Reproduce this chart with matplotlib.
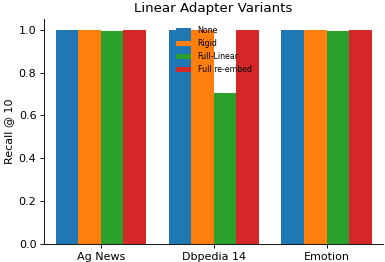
import numpy as np
import matplotlib.pyplot as plt

# data
datasets = ["Ag News", "Dbpedia 14", "Emotion"]
variants = ["None", "Rigid", "Full-Linear", "Full re-embed"]
none_vals = [1.0, 1.0, 1.0]
rigid_vals = [1.0, 1.0, 1.0]
full_linear_vals = [0.993, 0.705, 0.993]
full_reembed_vals = [1.0, 1.0, 1.0]
colors = ["#1f77b4", "#ff7f0e", "#2ca02c", "#d62728"]

series = [none_vals, rigid_vals, full_linear_vals, full_reembed_vals]

# render at dpi 80 so the default text sizes match the reference
fig, ax = plt.subplots(figsize=(385 / 80, 262 / 80), dpi=80)
x = np.arange(len(datasets))
width = 0.2

for i, (name, vals) in enumerate(zip(variants, series)):
    ax.bar(x + (i - 1.5) * width, vals, width, label=name, color=colors[i])

ax.set_xticks(x)
ax.set_xticklabels(datasets)
ax.set_xlim(-0.5, 2.5)
ax.set_ylim(0, 1.05)
ax.set_ylabel("Recall @ 10")
ax.set_title("Linear Adapter Variants")
ax.spines["top"].set_visible(False)
ax.spines["right"].set_visible(False)
ax.legend(loc="upper center", frameon=False, fontsize=7.1)

plt.subplots_adjust(left=0.115, right=0.995, top=0.927, bottom=0.069)
plt.savefig("out.png", dpi=80)
